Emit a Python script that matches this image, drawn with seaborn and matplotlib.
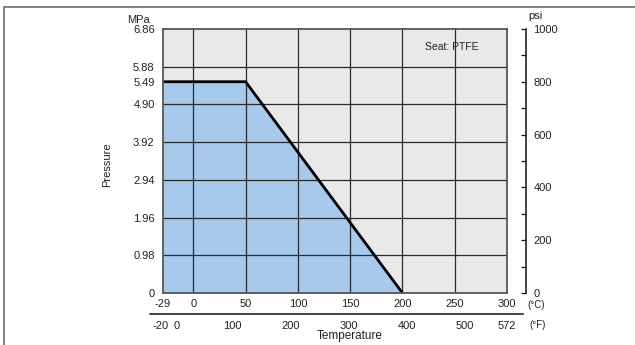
import matplotlib
matplotlib.use("Agg")
import matplotlib.pyplot as plt
import matplotlib.transforms as mtransforms
import seaborn as sns
import numpy as np
from matplotlib.lines import Line2D

# ---- data ----
temp_c = [-29, 50, 200]
pressure_mpa = [5.49, 5.49, 0.0]

c_ticks = [-29, 0, 50, 100, 150, 200, 250, 300]
c_grid = [0, 50, 100, 150, 200, 250]
f_ticks = [-20, 0, 100, 200, 300, 400, 500, 572]
f_tick_labels = ["-20", "0", "100", "200", "300", "400", "500", "572"]
mpa_ticks = [0, 0.98, 1.96, 2.94, 3.92, 4.90, 5.49, 5.88, 6.86]
mpa_tick_labels = ["0", "0.98", "1.96", "2.94", "3.92", "4.90", "5.49", "5.88", "6.86"]
mpa_grid = [0.98, 1.96, 2.94, 3.92, 4.90, 5.88]
psi_ticks = [0, 200, 400, 600, 800, 1000]
psi_minor = [100, 300, 500, 700, 900]

sns.set_theme(style="white")
plt.rcParams['font.family'] = ['Liberation Sans', 'DejaVu Sans']
FS = 8

W, H = 635, 345
fig = plt.figure(figsize=(W / 100, H / 100), dpi=100)

def fx(px):
    return px / W

def fy(py):
    return 1 - py / H

L, R, T, B = 163, 507, 29, 293
ax = fig.add_axes([fx(L), fy(B), fx(R) - fx(L), fy(T) - fy(B)])
ax.set_facecolor("#e9e9e9")

ax.fill_between(temp_c, pressure_mpa, 0, color="#a7c9ec", zorder=1, lw=0)
for xv in c_grid:
    ax.axvline(xv, color="#2a2a2a", lw=0.9, zorder=3)
for yv in mpa_grid:
    ax.axhline(yv, color="#2a2a2a", lw=0.9, zorder=3)
sns.lineplot(x=temp_c, y=pressure_mpa, ax=ax, color="black", lw=2.0, zorder=4,
             sort=False, estimator=None)

ax.set_xlim(-29, 300)
ax.set_ylim(0, 6.86)

ax.set_xticks(c_ticks)
ax.set_xticklabels([str(v) for v in c_ticks])
ax.set_yticks(mpa_ticks)
ax.set_yticklabels(mpa_tick_labels)
ax.tick_params(axis="both", which="both", length=0, labelsize=FS, labelcolor="#222")
ax.tick_params(axis="x", which="major", pad=4)
ax.tick_params(axis="y", which="major", pad=6)
ax.grid(False)
for s in ax.spines.values():
    s.set_color("#555555")
    s.set_linewidth(1.3)
    s.set_zorder(5)
ax.set_xlabel("")
ax.set_ylabel("")

fig.text(fx(452), fy(47), "Seat: PTFE", fontsize=FS - 0.5, ha="center", va="center", color="#222")

# ---- right psi axis ----
ax2 = ax.twinx()
ax2.set_ylim(0, 1000)
ax2.set_yticks(psi_ticks)
ax2.set_yticklabels([str(v) for v in psi_ticks])
ax2.set_yticks(psi_minor, minor=True)
ax2.spines["right"].set_position(("outward", 14))
ax2.spines["right"].set_bounds(0, 1000)
ax2.spines["right"].set_color("#111")
ax2.spines["right"].set_linewidth(1.1)
for s in ["left", "top", "bottom"]:
    ax2.spines[s].set_visible(False)
ax2.tick_params(axis="y", which="both", direction="in", length=3.5, width=0.9,
                color="#111", pad=5, right=True, left=False,
                labelsize=FS, labelcolor="#222")
ax2.grid(False)
ax2.set_ylabel("")

# ---- Fahrenheit axis ----
FL, FR, FB = 150, 523, 314
def c2f(c):
    return c * 9 / 5 + 32
fpp = (c2f(300) - c2f(-29)) / (R - L)
fmin = c2f(-29) - (L - FL) * fpp
fmax = c2f(300) + (FR - R) * fpp
ax3 = fig.add_axes([fx(FL), fy(FB), fx(FR) - fx(FL), 0.0001])
ax3.set_facecolor("none")
ax3.set_xlim(fmin, fmax)
ax3.set_yticks([])
ax3.set_xticks(f_ticks)
ax3.set_xticklabels(f_tick_labels)
ax3.tick_params(axis="x", direction="out", length=3.5, width=0.9, color="#111", pad=1.5,
                labelsize=FS, labelcolor="#222")
for s in ["left", "right", "top"]:
    ax3.spines[s].set_visible(False)
ax3.spines["bottom"].set_color("#111")
ax3.spines["bottom"].set_linewidth(1.1)
ax3.grid(False)
# nudge the crowded "-20" / "0" labels apart like the reference
lbls = ax3.get_xticklabels()
lbls[0].set_transform(lbls[0].get_transform() +
                      mtransforms.ScaledTranslation(-2.5 / 100, 0, fig.dpi_scale_trans))
lbls[1].set_transform(lbls[1].get_transform() +
                      mtransforms.ScaledTranslation(1.5 / 100, 0, fig.dpi_scale_trans))

# ---- labels ----
fig.text(fx(150), fy(20), "MPa", fontsize=FS, ha="right", va="center", color="#222")
fig.text(fx(528), fy(16), "psi", fontsize=FS, ha="left", va="center", color="#222")
fig.text(fx(107), fy(165), "Pressure", fontsize=FS, ha="center", va="center",
         rotation=90, color="#222")
fig.text(fx(350), fy(336.5), "Temperature", fontsize=FS + 0.5, ha="center", va="center", color="#222")
fig.text(fx(527), fy(305), "(\u00b0C)", fontsize=FS - 1, ha="left", va="center", color="#222")
fig.text(fx(529), fy(325), "(\u00b0F)", fontsize=FS - 1, ha="left", va="center", color="#222")

# ---- outer border (top and left) ----
fig.add_artist(Line2D([fx(4), 1.0], [fy(7), fy(7)], color="#777", lw=1.3))
fig.add_artist(Line2D([fx(4), fx(4)], [fy(7), 0.0], color="#777", lw=1.3))

fig.savefig("out.png", dpi=100)
